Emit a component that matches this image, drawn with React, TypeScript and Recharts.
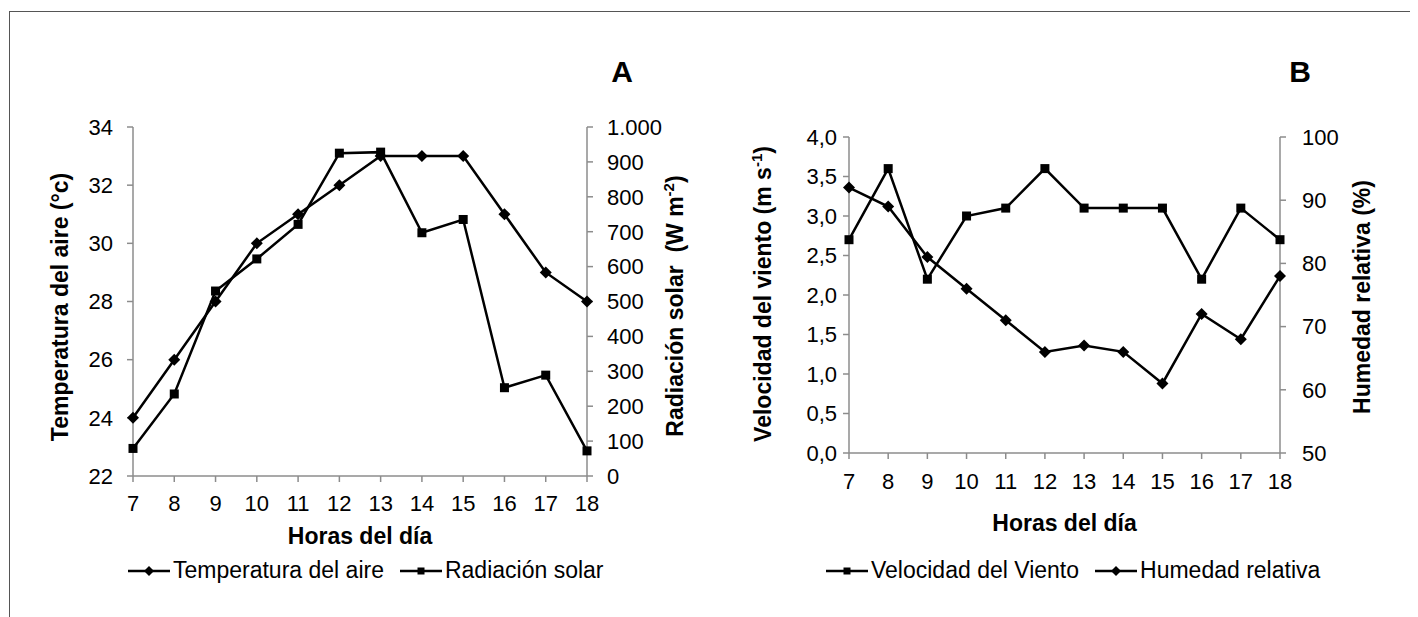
import React from 'react'
import { LineChart, Line, XAxis, YAxis, Legend } from 'recharts'

const FONT = '"Liberation Sans", Arial, sans-serif'
const AXIS = '#8c8c8c'

const horas = ['7', '8', '9', '10', '11', '12', '13', '14', '15', '16', '17', '18']

// Panel A
const temperatura = [24, 26, 28, 30, 31, 32, 33, 33, 33, 31, 29, 28]
const radiacion = [79, 235, 530, 622, 721, 925, 928, 697, 735, 253, 289, 72]
const ticksTemp = [22, 24, 26, 28, 30, 32, 34]
const ticksRad = [0, 100, 200, 300, 400, 500, 600, 700, 800, 900, 1000]

// Panel B
const viento = [2.7, 3.6, 2.2, 3.0, 3.1, 3.6, 3.1, 3.1, 3.1, 2.2, 3.1, 2.7]
const humedad = [92, 89, 81, 76, 71, 66, 67, 66, 61, 72, 68, 78]
const ticksViento = [0, 0.5, 1, 1.5, 2, 2.5, 3, 3.5, 4]
const ticksHumedad = [50, 60, 70, 80, 90, 100]

const datosA = horas.map((h, i) => ({ hora: h, temperatura: temperatura[i], radiacion: radiacion[i] }))
const datosB = horas.map((h, i) => ({ hora: h, viento: viento[i], humedad: humedad[i] }))

const tickStyle = { fill: '#000', fontSize: 22, fontFamily: FONT }

function Square(props: any) {
  const { cx, cy } = props
  if (cx == null || cy == null) return null
  return <rect x={cx - 4.5} y={cy - 4.5} width={9} height={9} fill="#000" />
}

function Diamond(props: any) {
  const { cx, cy } = props
  if (cx == null || cy == null) return null
  const r = 6
  return <path d={`M${cx},${cy - r}L${cx + r},${cy}L${cx},${cy + r}L${cx - r},${cy}Z`} fill="#000" />
}

function VTitle({ cx, cy, text, sup, after }: { cx: number; cy: number; text: string; sup?: string; after?: string }) {
  const x = cx + 8
  return (
    <text
      x={x}
      y={cy}
      transform={`rotate(-90 ${x} ${cy})`}
      textAnchor="middle"
      fill="#000"
      style={{ fontFamily: FONT, fontWeight: 'bold', fontSize: 23, whiteSpace: 'pre' }}
    >
      {text}
      {sup && (
        <tspan dy={-9} fontSize={15}>
          {sup}
        </tspan>
      )}
      {after && <tspan dy={sup ? 9 : 0}>{after}</tspan>}
    </text>
  )
}

function XTitle({ viewBox, dy }: any) {
  const { x, y, width } = viewBox
  return (
    <text
      x={x + width / 2}
      y={y + dy}
      textAnchor="middle"
      fill="#000"
      style={{ fontFamily: FONT, fontWeight: 'bold', fontSize: 23 }}
    >
      Horas del día
    </text>
  )
}

function LegendRow({ items }: { items: { label: string; marker: 'square' | 'diamond' }[] }) {
  return (
    <div style={{ display: 'flex', alignItems: 'center', fontFamily: FONT, fontSize: 23, color: '#000', whiteSpace: 'nowrap' }}>
      {items.map((it, i) => (
        <div key={it.label} style={{ display: 'flex', alignItems: 'center', marginLeft: i ? 16 : 0 }}>
          <svg width={42} height={14}>
            <line x1={0} y1={7} x2={42} y2={7} stroke="#000" strokeWidth={2.5} />
            {it.marker === 'square' ? (
              <rect x={17.5} y={3.5} width={7} height={7} fill="#000" />
            ) : (
              <path d="M21,2L26,7L21,12L16,7Z" fill="#000" />
            )}
          </svg>
          <span style={{ marginLeft: 3 }}>{it.label}</span>
        </div>
      ))}
    </div>
  )
}

const fmtRad = (v: number) => (v === 1000 ? '1.000' : String(v))
const fmtComa = (v: number) => v.toFixed(1).replace('.', ',')

function PanelLetter({ left, children }: { left: number; children: string }) {
  return (
    <div
      style={{
        position: 'absolute',
        left,
        top: 49,
        width: 40,
        textAlign: 'center',
        fontFamily: FONT,
        fontWeight: 'bold',
        fontSize: 30,
        lineHeight: '30px',
        color: '#000',
      }}
    >
      {children}
    </div>
  )
}

export default function App() {
  return (
    <div style={{ position: 'relative', width: 1410, height: 609, overflow: 'hidden', background: '#fff' }}>
      <div
        style={{
          position: 'absolute',
          left: 1,
          top: 3,
          width: 1404,
          height: 700,
          boxSizing: 'border-box',
          border: '1px solid #555',
        }}
      />

      <div style={{ position: 'absolute', left: 0, top: 0 }}>
        <LineChart width={700} height={600} data={datosA} margin={{ top: 119, left: 55, right: 41, bottom: 72 }}>
          <XAxis
            dataKey="hora"
            interval={0}
            height={60}
            tick={tickStyle}
            tickSize={6}
            tickMargin={13}
            axisLine={{ stroke: AXIS, strokeWidth: 1.5 }}
            tickLine={{ stroke: AXIS, strokeWidth: 1.5 }}
            label={(p: any) => <XTitle viewBox={p.viewBox} dy={68} />}
          />
          <YAxis
            yAxisId="izq"
            width={70}
            domain={[22, 34]}
            ticks={ticksTemp}
            interval={0}
            tick={tickStyle}
            tickSize={6}
            tickMargin={14}
            axisLine={{ stroke: AXIS, strokeWidth: 1.5 }}
            tickLine={{ stroke: AXIS, strokeWidth: 1.5 }}
            label={() => <VTitle cx={52} cy={299} text="Temperatura del aire (°c)" />}
          />
          <YAxis
            yAxisId="der"
            orientation="right"
            width={80}
            domain={[0, 1000]}
            ticks={ticksRad}
            interval={0}
            tickFormatter={fmtRad}
            tick={tickStyle}
            tickSize={6}
            tickMargin={14}
            axisLine={{ stroke: AXIS, strokeWidth: 1.5 }}
            tickLine={{ stroke: AXIS, strokeWidth: 1.5 }}
            label={() => <VTitle cx={667} cy={298} text="Radiación solar  (W m" sup="-2" after=")" />}
          />
          <Line
            yAxisId="izq"
            type="linear"
            dataKey="temperatura"
            stroke="#000"
            strokeWidth={2.5}
            dot={<Diamond />}
            activeDot={false}
            isAnimationActive={false}
          />
          <Line
            yAxisId="der"
            type="linear"
            dataKey="radiacion"
            stroke="#000"
            strokeWidth={2.5}
            dot={<Square />}
            activeDot={false}
            isAnimationActive={false}
          />
          <Legend
            layout="horizontal"
            verticalAlign="middle"
            align="center"
            wrapperStyle={{ left: 120, top: 549, width: 560 }}
            content={() => (
              <LegendRow
                items={[
                  { label: 'Temperatura del aire', marker: 'diamond' },
                  { label: 'Radiación solar', marker: 'square' },
                ]}
              />
            )}
          />
        </LineChart>
      </div>

      <div style={{ position: 'absolute', left: 692, top: 0 }}>
        <LineChart width={700} height={600} data={datosB} margin={{ top: 129, left: 79, right: 40, bottom: 95 }}>
          <XAxis
            dataKey="hora"
            interval={0}
            height={60}
            tick={tickStyle}
            tickSize={6}
            tickMargin={14}
            axisLine={{ stroke: AXIS, strokeWidth: 1.5 }}
            tickLine={{ stroke: AXIS, strokeWidth: 1.5 }}
            label={(p: any) => <XTitle viewBox={p.viewBox} dy={78} />}
          />
          <YAxis
            yAxisId="izq"
            width={70}
            domain={[0, 4]}
            ticks={ticksViento}
            interval={0}
            tickFormatter={fmtComa}
            tick={tickStyle}
            tickSize={6}
            tickMargin={6}
            axisLine={{ stroke: AXIS, strokeWidth: 1.5 }}
            tickLine={{ stroke: AXIS, strokeWidth: 1.5 }}
            label={() => <VTitle cx={63} cy={286} text="Velocidad del viento (m s" sup="-1" after=")" />}
          />
          <YAxis
            yAxisId="der"
            orientation="right"
            width={80}
            domain={[50, 100]}
            ticks={ticksHumedad}
            interval={0}
            tick={tickStyle}
            tickSize={6}
            tickMargin={16}
            axisLine={{ stroke: AXIS, strokeWidth: 1.5 }}
            tickLine={{ stroke: AXIS, strokeWidth: 1.5 }}
            label={() => <VTitle cx={662} cy={289} text="Humedad relativa (%)" />}
          />
          <Line
            yAxisId="izq"
            type="linear"
            dataKey="viento"
            stroke="#000"
            strokeWidth={2.5}
            dot={<Square />}
            activeDot={false}
            isAnimationActive={false}
          />
          <Line
            yAxisId="der"
            type="linear"
            dataKey="humedad"
            stroke="#000"
            strokeWidth={2.5}
            dot={<Diamond />}
            activeDot={false}
            isAnimationActive={false}
          />
          <Legend
            layout="horizontal"
            verticalAlign="middle"
            align="center"
            wrapperStyle={{ left: 126, top: 549, width: 560 }}
            content={() => (
              <LegendRow
                items={[
                  { label: 'Velocidad del Viento', marker: 'square' },
                  { label: 'Humedad relativa', marker: 'diamond' },
                ]}
              />
            )}
          />
        </LineChart>
      </div>

      <PanelLetter left={594}>A</PanelLetter>
      <PanelLetter left={1272}>B</PanelLetter>
    </div>
  )
}
